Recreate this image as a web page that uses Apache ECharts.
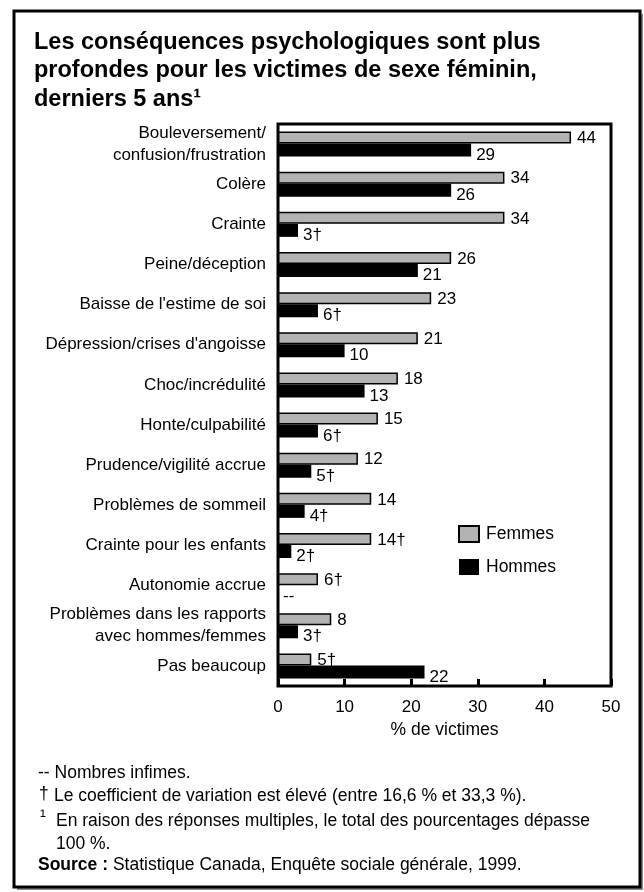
<!DOCTYPE html>
<html>
<head>
<meta charset="utf-8">
<script src="https://cdn.jsdelivr.net/npm/echarts@6/dist/echarts.min.js"></script>
<style>
  html, body { margin: 0; padding: 0; background: #fff; }
  #main { width: 644px; height: 892px; }
</style>
</head>
<body>
<div id="main"></div>
<script>
// categories, top to bottom
const categories = [
  'Bouleversement/\nconfusion/frustration',
  'Colère',
  'Crainte',
  'Peine/déception',
  "Baisse de l'estime de soi",
  "Dépression/crises d'angoisse",
  'Choc/incrédulité',
  'Honte/culpabilité',
  'Prudence/vigilité accrue',
  'Problèmes de sommeil',
  'Crainte pour les enfants',
  'Autonomie accrue',
  'Problèmes dans les rapports\navec hommes/femmes',
  'Pas beaucoup'
];

// % de victimes
const femmes = [44, 34, 34, 26, 23, 21, 18, 15, 12, 14, 14, 6, 8, 5];
const hommes = [29, 26, 3, 21, 6, 10, 13, 6, 5, 4, 2, 0, 3, 22];

// labels shown next to bars († = coefficient de variation élevé, -- = nombres infimes)
const femmesLabels = ['44', '34', '34', '26', '23', '21', '18', '15', '12', '14', '14†', '6†', '8', '5†'];
const hommesLabels = ['29', '26', '3†', '21', '6†', '10', '13', '6†', '5†', '4†', '2†', '--', '3†', '22'];

const xTicks = [0, 10, 20, 30, 40, 50];

const font = '"Liberation Sans", Arial, sans-serif';
const noteFont = '17.5px ' + font;

const chart = echarts.init(document.getElementById('main'), null, { renderer: 'canvas' });

const option = {
  backgroundColor: '#ffffff',
  animation: false,
  textStyle: { fontFamily: font, color: '#000' },
  title: {
    text: 'Les conséquences psychologiques sont plus\nprofondes pour les victimes de sexe féminin,\nderniers 5 ans¹',
    left: 29,
    top: 23,
    textStyle: {
      fontFamily: font,
      fontSize: 23.5,
      fontWeight: 'bold',
      lineHeight: 28.5,
      color: '#000'
    }
  },
  legend: {
    orient: 'vertical',
    left: 453,
    top: 520,
    itemWidth: 20,
    itemHeight: 16,
    itemGap: 15,
    icon: 'rect',
    textStyle: { fontFamily: font, fontSize: 17.5, color: '#000', padding: [0, 0, 0, 2] },
    data: ['Femmes', 'Hommes']
  },
  grid: {
    left: 278,
    right: 33,
    top: 124,
    bottom: 206,
    show: true,
    borderColor: '#000',
    borderWidth: 3,
    backgroundColor: 'transparent'
  },
  xAxis: {
    type: 'value',
    min: xTicks[0],
    max: xTicks[xTicks.length - 1],
    interval: 10,
    name: '% de victimes',
    nameLocation: 'middle',
    nameGap: 35,
    nameTextStyle: { fontFamily: font, fontSize: 17.5, color: '#000' },
    axisLine: { show: false },
    axisTick: { show: true, inside: true, length: 7, lineStyle: { color: '#000', width: 3 } },
    axisLabel: { fontFamily: font, fontSize: 17, color: '#000', margin: 13 },
    splitLine: { show: false }
  },
  yAxis: {
    type: 'category',
    inverse: true,
    data: categories,
    axisLine: { show: false },
    axisTick: { show: false },
    axisLabel: {
      fontFamily: font,
      fontSize: 17,
      color: '#000',
      margin: 12,
      lineHeight: 22,
      align: 'right'
    }
  },
  series: [
    {
      name: 'Femmes',
      type: 'bar',
      data: femmes,
      barWidth: 12,
      barGap: '0%',
      itemStyle: { color: '#b3b3b3', borderColor: '#000', borderWidth: 1.5 },
      label: {
        show: true,
        position: 'right',
        distance: 6,
        offset: [0, 1],
        fontFamily: font,
        fontSize: 17,
        color: '#000',
        formatter: p => femmesLabels[p.dataIndex]
      }
    },
    {
      name: 'Hommes',
      type: 'bar',
      data: hommes,
      barWidth: 13,
      itemStyle: { color: '#000' },
      label: {
        show: true,
        position: 'right',
        distance: 5,
        offset: [0, 5],
        fontFamily: font,
        fontSize: 17,
        color: '#000',
        formatter: p => hommesLabels[p.dataIndex]
      }
    }
  ],
  graphic: [
    // drop shadow + frame
    { type: 'rect', z: -20, shape: { x: 17, y: 14, width: 626, height: 876 }, style: { fill: '#8c8c8c' } },
    { type: 'rect', z: -10, shape: { x: 14, y: 11, width: 626, height: 876 }, style: { fill: '#fff', stroke: '#000', lineWidth: 3 } },
    // footnotes
    { type: 'text', left: 38, top: 764, style: { text: '-- Nombres infimes.', font: noteFont, fill: '#000' } },
    { type: 'text', left: 39, top: 785, style: { text: '†', font: noteFont, fill: '#000' } },
    { type: 'text', left: 54, top: 787, style: { text: 'Le coefficient de variation est élevé (entre 16,6 % et 33,3 %).', font: noteFont, fill: '#000' } },
    { type: 'text', left: 40, top: 808, style: { text: '¹', font: noteFont, fill: '#000' } },
    { type: 'text', left: 56, top: 810, style: { text: 'En raison des réponses multiples, le total des pourcentages dépasse\n100 %.', font: noteFont, lineHeight: 23, fill: '#000' } },
    {
      type: 'text', left: 38, top: 856,
      style: {
        text: '{b|Source :} Statistique Canada, Enquête sociale générale, 1999.',
        font: noteFont,
        fill: '#000',
        rich: { b: { fontWeight: 'bold', fontSize: 17.5, fontFamily: font } }
      }
    }
  ]
};

chart.setOption(option);
</script>
</body>
</html>
